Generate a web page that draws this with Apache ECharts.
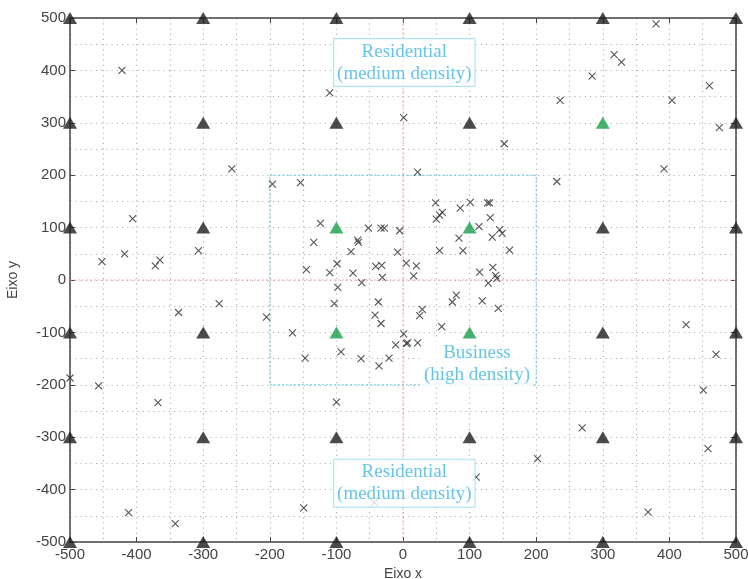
<!DOCTYPE html>
<html>
<head>
<meta charset="utf-8">
<script src="https://cdn.jsdelivr.net/npm/echarts@6/dist/echarts.min.js"></script>
<style>
  html, body { margin: 0; padding: 0; background: #fff; }
  #chart { width: 748px; height: 579px; }
</style>
</head>
<body>
<div id="chart"></div>
<script>
// base stations, black (macro) and green (business area)
const blackSites = [
    [-500, 500], [-300, 500], [-100, 500], [100, 500], [300, 500], [500, 500],
    [-500, 300], [-300, 300], [-100, 300], [100, 300], [500, 300],
    [-500, 100], [-300, 100], [300, 100], [500, 100],
    [-500, -100], [-300, -100], [300, -100], [500, -100],
    [-500, -300], [-300, -300], [-100, -300], [100, -300], [300, -300], [500, -300],
    [-500, -500], [-300, -500], [-100, -500], [100, -500], [300, -500], [500, -500]
]
const greenSites = [[-100, 100], [100, 100], [-100, -100], [100, -100], [300, 300]]

// users (x markers)
const users = [
    [-422, 400], [-110, 357], [-257, 212], [-196, 183], [-154, 186], [-406, 117], [-452, 35], [-418, 50],
    [-372, 27], [-365, 38], [-307, 56],
    [380, 489], [317, 430], [328, 416], [284, 389], [460, 371], [236, 343], [404, 343], [1, 310],
    [475, 291], [152, 260], [22, 206], [392, 212], [231, 188],
    [-276, -45], [-337, -62], [-205, -71], [-166, -101], [-500, -187], [-457, -202], [-368, -234],
    [-100, -233], [-149, -435], [-412, -444], [-342, -465], [-43, -425],
    [425, -85], [470, -142], [451, -210], [269, -282], [458, -322], [202, -341], [110, -376], [368, -443],
    [-124, 108], [-52, 99], [-33, 99], [-28, 99], [-5, 94], [-134, 72], [-68, 76], [-67, 72], [-78, 54],
    [-8, 53], [-145, 20], [-110, 14], [-99, 31], [-75, 13], [-62, -5], [-41, 26], [-32, 28], [-31, 5],
    [5, 32], [20, 27], [16, 8], [-98, -14],
    [49, 147], [101, 148], [127, 147], [130, 147], [86, 137], [59, 129], [55, 124], [50, 116], [131, 119],
    [114, 102], [145, 96], [149, 89], [134, 82], [84, 80], [55, 56], [90, 56], [160, 57], [115, 15],
    [135, 24], [139, 9], [141, 3], [128, -6],
    [-103, -45], [-37, -42], [-42, -67], [-33, -83], [80, -29], [74, -42], [119, -40], [143, -54],
    [29, -56], [25, -68], [58, -89], [1, -103], [-11, -124], [5, -121], [7, -120], [22, -120],
    [-93, -137], [-147, -149], [-63, -150], [-21, -149], [-36, -164]
]

// area labels [x, y, text, boxed]
const areaLabels = [
    [2, 415, 'Residential\n(medium density)', true],
    [2, -388, 'Residential\n(medium density)', true],
    [111, -160, 'Business\n(high density)', false]
]
const businessBox = [-200, 200] // square zone, same on both axes
const axisRange = [-500, 500]

const AXIS_COLOR = '#444'
const GRID_COLOR = '#b4b4b4'
const CYAN = '#3db6e2'
const GRID_DOTS = [1.2, 4]

const chart = echarts.init(document.getElementById('chart'))

const baseAxis = {
    type: 'value',
    min: axisRange[0],
    max: axisRange[1],
    interval: 100,
    axisLine: { show: true, onZero: false, lineStyle: { color: AXIS_COLOR, width: 1.5 } },
    axisTick: { show: true, inside: true, length: 5, lineStyle: { color: AXIS_COLOR } },
    splitLine: { show: true, lineStyle: { color: GRID_COLOR, type: GRID_DOTS, width: 1.2 } },
    minorTick: { show: false, splitNumber: 2 },
    minorSplitLine: { show: true, lineStyle: { color: GRID_COLOR, type: GRID_DOTS, width: 1.2 } },
    axisLabel: { color: '#444', fontSize: 15, fontFamily: 'Liberation Sans' },
    nameTextStyle: { color: '#444', fontSize: 14, fontFamily: 'Liberation Sans' }
}

const originStyle = { color: '#e99393', type: [1.5, 2.5], width: 1 }

const option = {
    animation: false,
    grid: { left: 70, right: 12, top: 18, bottom: 37, outerBoundsMode: 'none' },
    xAxis: [
        Object.assign({}, baseAxis, {
            position: 'bottom', name: 'Eixo x', nameLocation: 'middle', nameGap: 24,
            axisLabel: Object.assign({}, baseAxis.axisLabel, { margin: 5 })
        }),
        Object.assign({}, baseAxis, {
            position: 'top', axisLabel: { show: false },
            splitLine: { show: false }, minorSplitLine: { show: false }
        })
    ],
    yAxis: [
        Object.assign({}, baseAxis, {
            position: 'left', name: 'Eixo y', nameLocation: 'middle', nameGap: 50,
            axisLabel: Object.assign({}, baseAxis.axisLabel, { margin: 4 })
        }),
        Object.assign({}, baseAxis, {
            position: 'right', axisLabel: { show: false },
            splitLine: { show: false }, minorSplitLine: { show: false }
        })
    ],
    series: [
        // x = 0 and y = 0 reference lines
        {
            type: 'line', silent: true, symbol: 'none', z: 2,
            data: [[0, axisRange[0]], [0, axisRange[1]]],
            lineStyle: originStyle
        },
        {
            type: 'line', silent: true, symbol: 'none', z: 2,
            data: [[axisRange[0], 0], [axisRange[1], 0]],
            lineStyle: originStyle
        },
        {
            name: 'users',
            type: 'scatter',
            data: users,
            symbol: 'path://M0,0L10,10M10,0L0,10',
            symbolSize: 7,
            clip: false,
            itemStyle: { color: 'transparent', borderColor: '#2a2a2a', borderWidth: 1.1 },
            markArea: {
                silent: true,
                itemStyle: {
                    color: 'transparent', borderColor: '#5cc8ec', borderWidth: 1,
                    borderType: [2, 2], opacity: 1
                },
                data: [[
                    { coord: [businessBox[0], businessBox[0]] },
                    { coord: [businessBox[1], businessBox[1]] }
                ]]
            },
            z: 3
        },
        {
            name: 'macro',
            type: 'scatter',
            data: blackSites,
            symbol: 'triangle',
            symbolSize: [14, 12],
            clip: false,
            itemStyle: { color: '#1e1e1e' },
            z: 4
        },
        {
            name: 'business',
            type: 'scatter',
            data: greenSites,
            symbol: 'triangle',
            symbolSize: [14, 12],
            clip: false,
            itemStyle: { color: '#16a04a' },
            z: 4
        },
        {
            name: 'labels',
            type: 'scatter',
            data: areaLabels.map(d => ({
                value: [d[0], d[1]],
                label: {
                    borderColor: d[3] ? '#9adcf2' : 'transparent',
                    borderWidth: d[3] ? 1 : 0
                },
                text: d[2]
            })),
            symbolSize: 1,
            itemStyle: { color: 'transparent' },
            label: {
                show: true,
                position: 'inside',
                formatter: p => p.data.text,
                fontFamily: 'Liberation Serif',
                fontSize: 19,
                lineHeight: 22,
                color: CYAN,
                align: 'center',
                backgroundColor: '#fff',
                padding: [2, 3, 1, 3]
            },
            z: 5
        }
    ]
}

chart.setOption(option)
</script>
</body>
</html>
